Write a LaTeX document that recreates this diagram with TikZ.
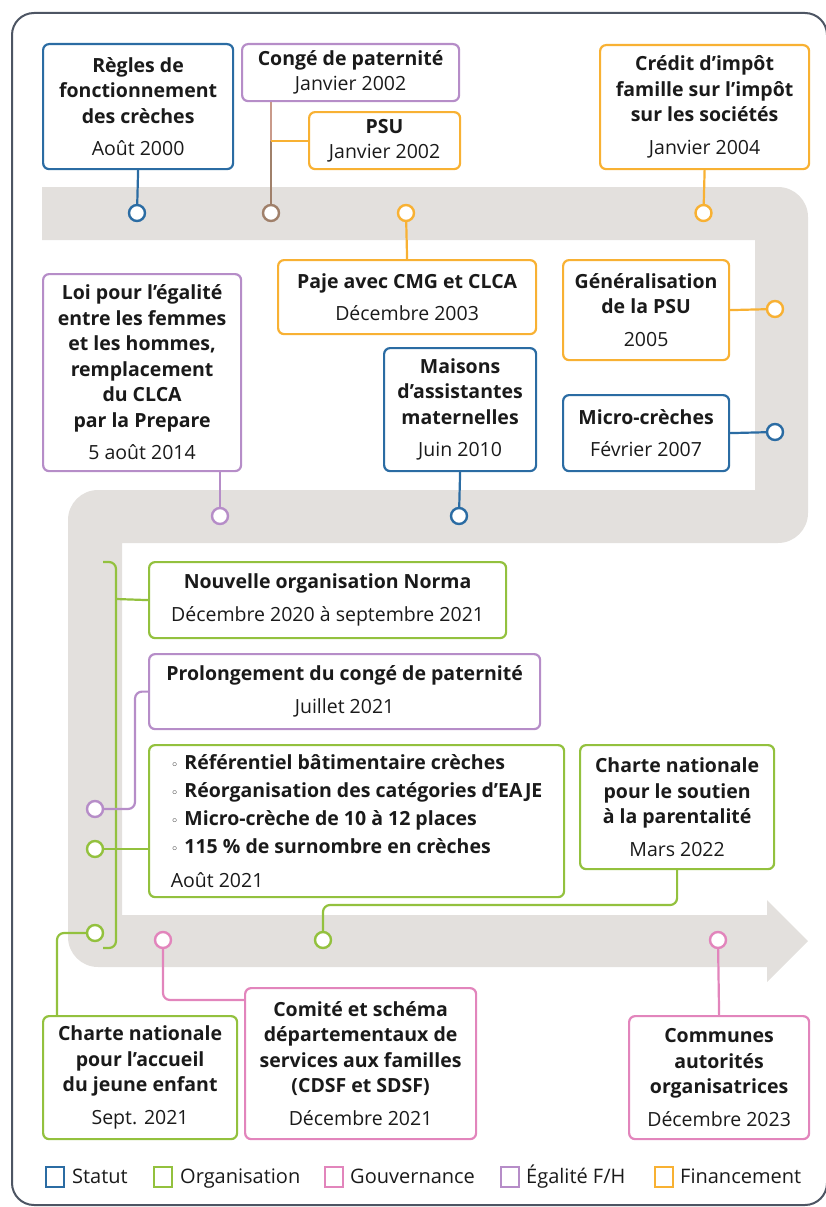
\documentclass[tikz,border=0pt]{standalone}
\usepackage{fontspec}
\setmainfont{Open Sans}
\newfontfamily\symf{DejaVu Sans}
\definecolor{cblue}{HTML}{2B6CA3}
\definecolor{cgreen}{HTML}{93C13E}
\definecolor{cpink}{HTML}{E285BC}
\definecolor{cpurple}{HTML}{B68DC8}
\definecolor{corange}{HTML}{F8B133}
\definecolor{cbrown}{HTML}{A0806A}
\definecolor{ctan}{HTML}{C99A8A}
\definecolor{band}{HTML}{E3E0DD}
\definecolor{frame}{HTML}{4D5563}
\definecolor{ink}{HTML}{1A1A1A}
\newcommand\fs{\fontsize{19.5}{25.5}\selectfont}
\newcommand\gap{\\[7pt]}
\newcommand\bul{{\symf\fontsize{13}{13}\selectfont ◦}\hspace{6pt}}
\tikzset{
  box/.style={draw=#1, line width=2.2pt, rounded corners=6pt, fill=white, inner sep=0pt,
    anchor=north west, align=center, font=\fs, text=ink},
  dot/.style={circle, draw=#1, fill=white, line width=2.4pt, minimum size=16pt, inner sep=0pt},
  link/.style={draw=#1, line width=2.2pt, rounded corners=7pt},
  legsq/.style={draw=#1, line width=2.2pt, minimum width=18pt, minimum height=20pt, inner sep=0pt, anchor=north west},
  legtx/.style={anchor=base west, font=\fontsize{20}{24}\selectfont, text=ink, inner sep=0pt},
}
\begin{document}
\begin{tikzpicture}[x=1pt,y=-1pt]
\useasboundingbox (0,0) rectangle (826,1207);
% grey band
\fill[band] (42,187) -- (778,187) .. controls (794.57,187) and (808,200.43) .. (808,217)
  -- (808,513) .. controls (808,529.57) and (794.57,543) .. (778,543)
  -- (122,543) -- (122,915) -- (767,915) -- (767,900) -- (808,941) -- (767,982) -- (767,967)
  -- (98,967) .. controls (81.43,967) and (68,953.57) .. (68,937)
  -- (68,520) .. controls (68,503.43) and (81.43,490) .. (98,490)
  -- (755,490) -- (755,240) -- (42,240) -- cycle;
% frame
\draw[frame, line width=2pt, rounded corners=22pt] (12,13) rectangle (827,1205);

% boxes
\node[box=cblue, minimum width=190, minimum height=125] (regles) at (42,43)
  {\textbf{Règles de}\\\textbf{fonctionnement}\\\textbf{des crèches}\gap Août 2000};
\node[box=cpurple, minimum width=217, minimum height=57] (conge) at (241,43)
  {\textbf{Congé de paternité}\\Janvier 2002};
\node[box=corange, minimum width=151, minimum height=57] (psu) at (308,111)
  {\textbf{PSU}\\Janvier 2002};
\node[box=corange, minimum width=209, minimum height=124] (credit) at (599,44)
  {\textbf{Crédit d’impôt}\\\textbf{famille sur l’impôt}\\\textbf{sur les sociétés}\gap Janvier 2004};
\node[box=corange, minimum width=258, minimum height=74] (paje) at (277,259)
  {\textbf{Paje avec CMG et CLCA}\gap Décembre 2003};
\node[box=corange, minimum width=166, minimum height=100] (gen) at (562,259)
  {\textbf{Généralisation}\\\textbf{de la PSU}\gap 2005};
\node[box=cpurple, minimum width=198, minimum height=197] (loi) at (42,273)
  {\textbf{Loi pour l’égalité}\\\textbf{entre les femmes}\\\textbf{et les hommes,}\\\textbf{remplacement}\\\textbf{du CLCA}\\\textbf{par la Prepare}\gap 5 août 2014};
\node[box=cblue, minimum width=152, minimum height=123] (maisons) at (383,347)
  {\textbf{Maisons}\\\textbf{d’assistantes}\\\textbf{maternelles}\gap Juin 2010};
\node[box=cblue, minimum width=166, minimum height=76] (micro) at (562,394)
  {\textbf{Micro-crèches}\gap Février 2007};
\node[box=cgreen, minimum width=357, minimum height=76] (norma) at (148,561)
  {\textbf{Nouvelle organisation Norma}\gap Décembre 2020 à septembre 2021};
\node[box=cpurple, minimum width=391, minimum height=75] (prolong) at (148,653)
  {\textbf{Prolongement du congé de paternité}\gap Juillet 2021};
\node[box=cgreen, minimum width=415, minimum height=152, align=left, font=\fontsize{19.5}{28}\selectfont] (aout) at (148,744)
  {\bul\textbf{Référentiel bâtimentaire crèches}\\
   \bul\textbf{Réorganisation des catégories d’EAJE}\\
   \bul\textbf{Micro-crèche de 10 à 12 places}\\
   \bul\textbf{115 \% de surnombre en crèches}\\[6pt]
   Août 2021};
\node[box=cgreen, minimum width=194, minimum height=124] (soutien) at (579,744)
  {\textbf{Charte nationale}\\\textbf{pour le soutien}\\\textbf{à la parentalité}\gap Mars 2022};
\node[box=cgreen, minimum width=194, minimum height=123] (accueil) at (42,1015)
  {\textbf{Charte nationale}\\\textbf{pour l’accueil}\\\textbf{du jeune enfant}\gap Sept. 2021};
\node[box=cpink, minimum width=231, minimum height=151] (comite) at (244,987)
  {\textbf{Comité et schéma}\\\textbf{départementaux de}\\\textbf{services aux familles}\\\textbf{(CDSF et SDSF)}\gap Décembre 2021};
\node[box=cpink, minimum width=180, minimum height=123] (communes) at (628,1015)
  {\textbf{Communes}\\\textbf{autorités}\\\textbf{organisatrices}\gap Décembre 2023};

% dots
\node[dot=cblue] (c1) at (137,213) {};
\node[dot=cbrown] (c2) at (271,213) {};
\node[dot=corange] (c3) at (406,213) {};
\node[dot=corange] (c4) at (703.5,213) {};
\node[dot=corange] (c5) at (775,309) {};
\node[dot=cblue] (c6) at (775,432) {};
\node[dot=cpurple] (c7) at (220,516) {};
\node[dot=cblue] (c8) at (459,516) {};
\node[dot=cpurple] (c9) at (95,809) {};
\node[dot=cgreen] (c10) at (95,849) {};
\node[dot=cgreen] (c11) at (95,933) {};
\node[dot=cpink] (c12) at (163,940) {};
\node[dot=cgreen] (c13) at (323,940) {};
\node[dot=cpink] (c14) at (718,940) {};
\coordinate (k9) at (135,809);
\coordinate (k13) at (323,905);
\coordinate (bt) at (103,562);
\coordinate (bb) at (103,948);

% connectors
\draw[link=cblue] (regles.south) -- (c1);
\draw[link=ctan] (conge.south -| c2) -- (c2 |- psu.west);
\draw[link=cbrown] (c2 |- psu.west) -- (c2);
\draw[link=corange] (psu.west) -- (psu.west -| c2);
\draw[link=corange] (c3) -- (paje.north);
\draw[link=corange] (credit.south) -- (c4);
\draw[link=corange] (gen.east) -- (c5);
\draw[link=cblue] (micro.east) -- (c6);
\draw[link=cpurple] (loi.south -| c7) -- (c7);
\draw[link=cblue] (maisons.south) -- (c8);
\draw[link=cgreen] (bt) -- (116,562) -- (116,948) -- (bb);
\draw[link=cgreen] (116,599) -- (norma.west);
\draw[link=cpurple] (prolong.west) -| (k9) -- (c9);
\draw[link=cgreen] (c10) -- (c10 -| aout.west);
\draw[link=cgreen] (c11) -| ([xshift=15pt]accueil.north west);
\draw[link=cpink] (c12) |- ([yshift=-13pt]comite.north west);
\draw[link=cgreen] (soutien.south) |- (k13) -- (c13);
\draw[link=cpink] (c14) -- (communes.north);

% legend
\node[legsq=cblue] (l1) at (45,1166) {};
\node[legtx] (t1) at (72,1183) {Statut};
\node[legsq=cgreen] (l2) at (153,1166) {};
\node[legtx] (t2) at (180,1183) {Organisation};
\node[legsq=cpink] (l3) at (324,1166) {};
\node[legtx] (t3) at (350,1183) {Gouvernance};
\node[legsq=cpurple] (l4) at (500,1166) {};
\node[legtx] (t4) at (526,1183) {Égalité F/H};
\node[legsq=corange] (l5) at (654,1166) {};
\node[legtx] (t5) at (680,1183) {Financement};
\end{tikzpicture}
\end{document}
